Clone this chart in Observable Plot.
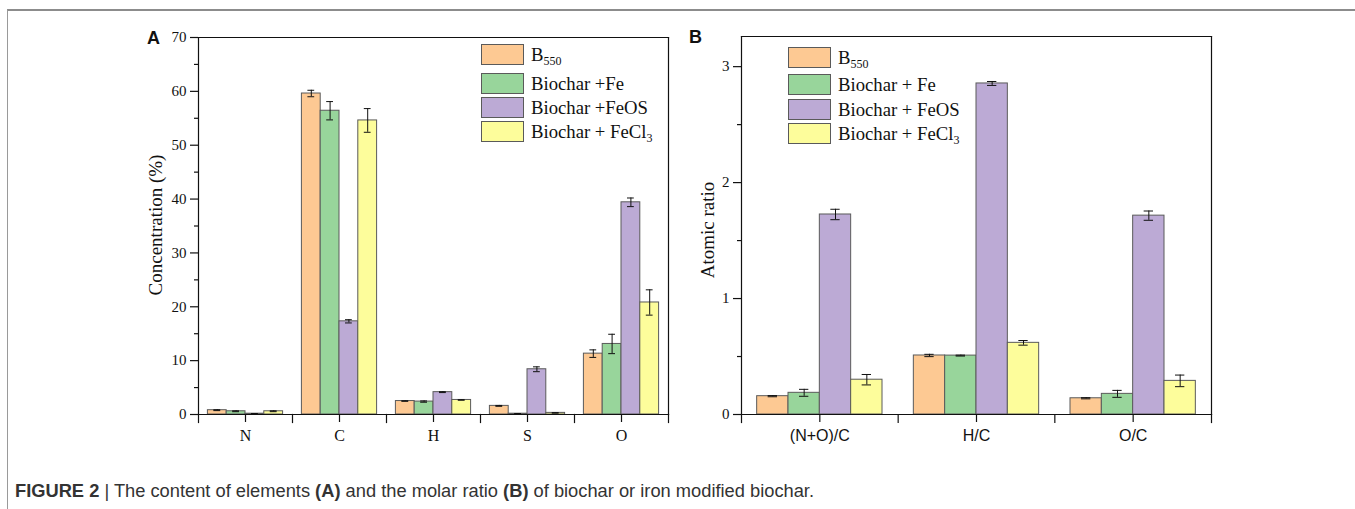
<!DOCTYPE html>
<html><head><meta charset="utf-8">
<script src="https://cdn.jsdelivr.net/npm/d3@7"></script>
<script src="https://cdn.jsdelivr.net/npm/@observablehq/plot@0.6"></script>
<style>
body{margin:0;background:#fff;}
#fig{position:relative;width:1355px;height:509px;overflow:hidden;font-family:"Liberation Serif","Times New Roman",serif;color:#111;}
#border{position:absolute;left:7px;top:9px;width:1400px;height:560px;border-top:2px solid #8c8c8c;border-left:1.5px solid #9a9a9a;}
.letter{position:absolute;font-family:"Liberation Sans",Arial,sans-serif;font-weight:bold;font-size:18px;line-height:1;}
.ytitle{position:absolute;font-size:19px;line-height:1;white-space:nowrap;transform:translate(-50%,-50%) rotate(-90deg);}
.legend{position:absolute;}
.legend .sw{position:absolute;width:43px;height:21px;box-sizing:border-box;border:1px solid #5a5a5a;}
.legend .lb{position:absolute;font-size:18.7px;line-height:21px;white-space:nowrap;}
.legend sub{font-size:12px;vertical-align:-4px;line-height:0;}
#caption{position:absolute;left:15px;top:480px;font-family:"Liberation Sans Narrow","Arial Narrow","Liberation Sans",sans-serif;font-size:18.3px;color:#333;white-space:nowrap;}
</style></head><body><div id="fig"><div id="border"></div></div><script>
// ---- series (shared) ----
const seriesKeys = ["B550", "Biochar +Fe", "Biochar +FeOS", "Biochar + FeCl3"];
const legendLabelsA = ["B<sub>550</sub>", "Biochar +Fe", "Biochar +FeOS", "Biochar + FeCl<sub>3</sub>"];
const legendLabelsB = ["B<sub>550</sub>", "Biochar + Fe", "Biochar + FeOS", "Biochar + FeCl<sub>3</sub>"];
const seriesColors = ["#fdc993", "#98d59b", "#bcaad5", "#fdfd9b"];

// ---- panel A: element content (%) ----
const elements = ["N", "C", "H", "S", "O"];
const concB550   = [0.8, 59.6, 2.5, 1.6, 11.3];
const concFe     = [0.6, 56.4, 2.4, 0.15, 13.1];
const concFeOS   = [0.15, 17.3, 4.15, 8.4, 39.4];
const concFeCl3  = [0.6, 54.6, 2.7, 0.3, 20.8];
const errConcB550  = [0.08, 0.6, 0.05, 0.08, 0.7];
const errConcFe    = [0.08, 1.7, 0.12, 0.03, 1.8];
const errConcFeOS  = [0.03, 0.3, 0.08, 0.45, 0.8];
const errConcFeCl3 = [0.08, 2.2, 0.05, 0.05, 2.35];
const yTicksA = [0, 10, 20, 30, 40, 50, 60, 70];
const yMinorA = [5, 15, 25, 35, 45, 55, 65];

// ---- panel B: atomic ratios ----
const ratios = ["(N+O)/C", "H/C", "O/C"];
const ratioB550  = [0.158, 0.509, 0.140];
const ratioFe    = [0.187, 0.508, 0.178];
const ratioFeOS  = [1.725, 2.855, 1.715];
const ratioFeCl3 = [0.300, 0.618, 0.290];
const errRatioB550  = [0.005, 0.010, 0.005];
const errRatioFe    = [0.030, 0.004, 0.030];
const errRatioFeOS  = [0.045, 0.017, 0.040];
const errRatioFeCl3 = [0.045, 0.020, 0.050];
const yTicksB = [0, 1, 2, 3];
const yMinorB = [0.5, 1.5, 2.5];

function buildRows(cats, vals, errs) {
  const out = [];
  cats.forEach((c, i) => seriesKeys.forEach((s, j) => out.push({cat: c, series: s, value: vals[j][i], err: errs[j][i]})));
  return out;
}
const rowsA = buildRows(elements, [concB550, concFe, concFeOS, concFeCl3], [errConcB550, errConcFe, errConcFeOS, errConcFeCl3]);
const rowsB = buildRows(ratios, [ratioB550, ratioFe, ratioFeOS, ratioFeCl3], [errRatioB550, errRatioFe, errRatioFeOS, errRatioFeCl3]);

function panel(o) {
  const frameH = o.height - o.mt - o.mb;
  const ax = {stroke: "#111", strokeWidth: 1.2};
  return Plot.plot({
    width: o.width, height: o.height,
    marginLeft: o.ml, marginRight: o.mr, marginTop: o.mt, marginBottom: o.mb,
    style: {fontFamily: "'Liberation Serif','Times New Roman',serif", fontSize: "15px", color: "#111", background: "transparent", overflow: "visible"},
    fx: {domain: o.cats, padding: 0, round: false, label: null},
    x: {domain: seriesKeys, paddingInner: 0, paddingOuter: 0.5, round: false, axis: null},
    y: {domain: [0, o.yMax], label: null},
    color: {domain: seriesKeys, range: seriesColors},
    marks: [
      Plot.barY(o.rows, {fx: "cat", x: "series", y: "value", fill: "series", stroke: "#5a5a5a", strokeWidth: 1}),
      Plot.ruleX(o.rows, {fx: "cat", x: "series", y1: d => d.value - d.err, y2: d => d.value + d.err, stroke: "#111"}),
      Plot.tickY(o.rows, {fx: "cat", x: "series", y: d => d.value - d.err, insetLeft: o.cap, insetRight: o.cap, stroke: "#111"}),
      Plot.tickY(o.rows, {fx: "cat", x: "series", y: d => d.value + d.err, insetLeft: o.cap, insetRight: o.cap, stroke: "#111"}),
      Plot.frame({anchor: "top", ...ax}),
      Plot.frame({anchor: "bottom", ...ax}),
      Plot.frame({anchor: "left", facetAnchor: "left", ...ax}),
      Plot.frame({anchor: "right", facetAnchor: "right", ...ax}),
      Plot.frame({anchor: "left", insetTop: frameH, insetBottom: -8, ...ax}),
      Plot.frame({anchor: "right", facetAnchor: "right", insetTop: frameH, insetBottom: -8, ...ax}),
      Plot.axisY(o.yTicks, {tickSize: 8, tickPadding: 4, label: null, tickFormat: d => String(d), fontSize: 15, strokeWidth: 1.2}),
      Plot.axisY(o.yMinor, {tickSize: 4, label: null, tickFormat: () => "", strokeWidth: 1.2}),
      Plot.axisFx({anchor: "bottom", tickSize: 8, tickPadding: 7, label: null, fontSize: o.xFont, fontFamily: o.xFamily, strokeWidth: 1.2})
    ]
  });
}

const fig = document.getElementById("fig");

const svgA = panel({rows: rowsA, cats: elements, yMax: 70, yTicks: yTicksA, yMinor: yMinorA,
  width: 560, height: 460, ml: 78, mr: 12, mt: 37, mb: 46, cap: 6, xFont: 16, xFamily: "'Liberation Serif','Times New Roman',serif"});
svgA.style.position = "absolute"; svgA.style.left = "120px"; svgA.style.top = "0px";
fig.appendChild(svgA);

const svgB = panel({rows: rowsB, cats: ratios, yMax: 3.26, yTicks: yTicksB, yMinor: yMinorB,
  width: 550, height: 460, ml: 61, mr: 19, mt: 36, mb: 46, cap: 11, xFont: 16, xFamily: "'Liberation Sans',Arial,sans-serif"});
svgB.style.position = "absolute"; svgB.style.left = "680px"; svgB.style.top = "0px";
fig.appendChild(svgB);

function addDiv(cls, html, css) {
  const d = document.createElement("div");
  d.className = cls; d.innerHTML = html; Object.assign(d.style, css); fig.appendChild(d); return d;
}
addDiv("letter", "A", {left: "147px", top: "29px"});
addDiv("letter", "B", {left: "689px", top: "28px"});
addDiv("ytitle", "Concentration (%)", {left: "155px", top: "225px"});
addDiv("ytitle", "Atomic ratio", {left: "707px", top: "230px"});

function legend(labels, left, top, offsets) {
  const g = addDiv("legend", "", {left: left + "px", top: top + "px"});
  labels.forEach((lab, i) => {
    const sw = document.createElement("div"); sw.className = "sw";
    sw.style.left = "0px"; sw.style.top = offsets[i] + "px"; sw.style.background = seriesColors[i];
    g.appendChild(sw);
    const t = document.createElement("div"); t.className = "lb"; t.innerHTML = lab;
    t.style.left = "50px"; t.style.top = offsets[i] + "px";
    g.appendChild(t);
  });
}
legend(legendLabelsA, 481, 44, [0, 29, 53, 77]);
legend(legendLabelsB, 788, 47, [0, 27, 52, 76]);

addDiv("", "<b>FIGURE 2</b> | The content of elements <b>(A)</b> and the molar ratio <b>(B)</b> of biochar or iron modified biochar.", {}).id = "caption";
</script></body></html>
